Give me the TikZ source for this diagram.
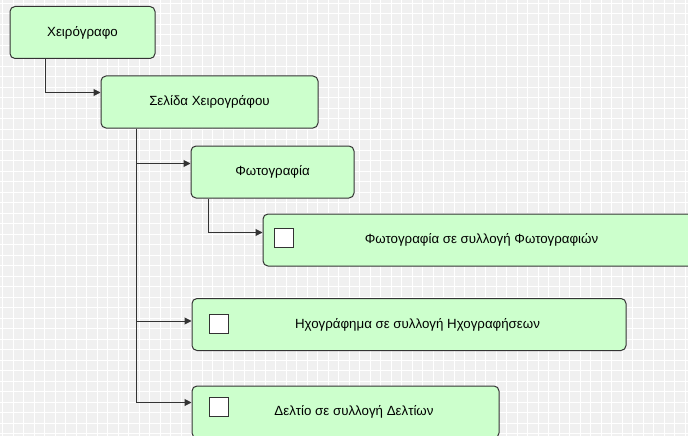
\documentclass[tikz,border=0pt]{standalone}
\usepackage{fontspec}
\setmainfont{Liberation Sans}
\usetikzlibrary{arrows.meta}
\definecolor{boxfill}{RGB}{204,255,204}
\definecolor{boxline}{RGB}{51,51,51}
\definecolor{gridback}{RGB}{240,240,240}

\begin{document}
\begin{tikzpicture}[x=1pt, y=-1pt]
            \tikzstyle{every node} = [font=\fontsize{13.3}{15}\selectfont]
            \tikzstyle{entity} = [draw=boxline, line width=1pt, fill=boxfill,
                rounded corners=5pt, minimum height=52pt, inner sep=0pt]
            \tikzstyle{tick} = [draw=boxline, line width=1pt, fill=white,
                minimum size=19pt, inner sep=0pt]
            \tikzstyle{link} = [draw=boxline, line width=1pt,
                -{Triangle[length=7pt,width=7pt]}]

            \useasboundingbox (0,0) rectangle (688,436);
            \clip (0,0) rectangle (688,436);
            \fill[gridback] (0,0) rectangle (688,436);
            \begin{scope}[shift={(2.5,3.3)}]
                \draw[white, line width=1pt, step=10.5pt] (-10.5,-10.5) grid (700,450);
            \end{scope}

            \node[entity, minimum width=145pt] (manuscript) at (82.5, 32.5) {Χειρόγραφο};
            \node[entity, minimum width=217pt] (page) at (209.5, 102) {Σελίδα Χειρογράφου};
            \node[entity, minimum width=163pt] (photo) at (272.5, 172) {Φωτογραφία};
            \node[entity, minimum width=437pt] (photocoll) at (481.5, 240)
                {Φωτογραφία σε συλλογή Φωτογραφιών};
            \node[entity, minimum width=434pt] (soundcoll) at (409, 324.5)
                {\hspace*{17pt}Ηχογράφημα σε συλλογή Ηχογραφήσεων};
            \node[entity, minimum width=307pt] (cardcoll) at (345.5, 412)
                {\hspace*{17pt}Δελτίο σε συλλογή Δελτίων};

            \node[tick] (photocheck) at (283.5, 237.5) {};
            \node[tick] (soundcheck) at (218.5, 324) {};
            \node[tick] (cardcheck) at (218.5, 407) {};

            \draw[link] ([xshift=36pt]manuscript.south west) |- ([yshift=-17pt]page.north west);
            \draw[link] ([xshift=36pt]page.south west) |- ([yshift=-18pt]photo.north west);
            \draw[link] ([xshift=36pt]page.south west) |- ([yshift=-23pt]soundcoll.north west);
            \draw[link] ([xshift=36pt]page.south west) |- ([yshift=-17pt]cardcoll.north west);
            \draw[link] ([xshift=18pt]photo.south west) |- ([yshift=-19pt]photocoll.north west);
\end{tikzpicture}
\end{document}
